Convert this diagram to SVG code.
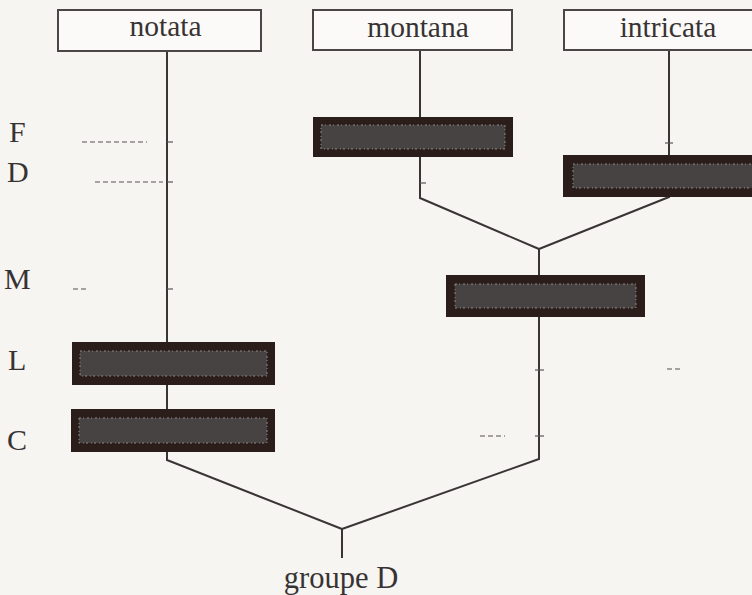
<svg xmlns="http://www.w3.org/2000/svg" width="752" height="595" viewBox="0 0 752 595">
  <style>
    text { font-family: 'Liberation Serif', 'DejaVu Serif', serif; fill: #383333; }
    .box { fill: #fbfaf8; stroke: #4a4645; stroke-width: 2; }
    .conn { fill: none; stroke: #3a3535; stroke-width: 2; }
    .tick { stroke: #5a5656; stroke-width: 1.2; }
    .faint { stroke: #8a8686; stroke-width: 1.3; stroke-dasharray: 5 3; fill: none; }
    .bar-out { fill: #2b1d1a; }
    .bar-in { fill: #474342; stroke: #8c8a88; stroke-width: 1; stroke-dasharray: 2 2 1 3; }
  </style>
  <rect x="0" y="0" width="752" height="595" fill="#f6f5f2"/>

  <g id="connectors">
    <polyline class="conn" points="167,51 167,460 342,529"/>
    <polyline class="conn" points="420,50 420,198 539,249"/>
    <polyline class="conn" points="669,50 669,197 539,249"/>
    <polyline class="conn" points="539,249 539,459 342,529"/>
    <line class="conn" x1="342" y1="529" x2="342" y2="558"/>
  </g>

  <g id="scale-marks">
    <line class="tick" x1="167" y1="142" x2="173" y2="142"/>
    <line class="tick" x1="167" y1="182" x2="173" y2="182"/>
    <line class="tick" x1="167" y1="289" x2="173" y2="289"/>
    <line class="tick" x1="420" y1="183" x2="426" y2="183"/>
    <line class="tick" x1="665" y1="143" x2="673" y2="143"/>
    <line class="tick" x1="535" y1="370" x2="544" y2="370"/>
    <line class="tick" x1="535" y1="436" x2="544" y2="436"/>
    <line class="faint" x1="82" y1="142" x2="147" y2="142"/>
    <line class="faint" x1="95" y1="182" x2="163" y2="182"/>
    <line class="faint" x1="73" y1="289" x2="88" y2="289"/>
    <line class="faint" x1="667" y1="369" x2="683" y2="369"/>
    <line class="faint" x1="480" y1="436" x2="505" y2="436"/>
  </g>

  <g id="node-notata">
    <rect class="box" x="58" y="10" width="203" height="41"/>
    <text x="165.5" y="36" font-family="Liberation Serif, serif" font-size="29.5" text-anchor="middle">notata</text>
  </g>
  <g id="node-montana">
    <rect class="box" x="313" y="10" width="199" height="40"/>
    <text x="418" y="36.5" font-family="Liberation Serif, serif" font-size="29.5" text-anchor="middle">montana</text>
  </g>
  <g id="node-intricata">
    <rect class="box" x="564" y="10" width="210" height="40"/>
    <text x="668" y="36.5" font-family="Liberation Serif, serif" font-size="29.5" text-anchor="middle">intricata</text>
  </g>

  <g id="bar-F">
    <rect class="bar-out" x="313" y="117" width="200" height="40"/>
    <rect class="bar-in" x="321" y="125" width="184" height="24"/>
  </g>
  <g id="bar-D">
    <rect class="bar-out" x="563" y="155" width="200" height="42"/>
    <rect class="bar-in" x="573" y="164" width="180" height="24"/>
  </g>
  <g id="bar-M">
    <rect class="bar-out" x="446" y="275" width="199" height="42"/>
    <rect class="bar-in" x="455" y="284" width="181" height="24"/>
  </g>
  <g id="bar-L">
    <rect class="bar-out" x="72" y="342" width="203" height="43"/>
    <rect class="bar-in" x="80" y="351" width="187" height="25"/>
  </g>
  <g id="bar-C">
    <rect class="bar-out" x="71" y="409" width="204" height="43"/>
    <rect class="bar-in" x="79" y="418" width="188" height="25"/>
  </g>

  <g id="level-labels">
    <text x="9" y="142" font-family="Liberation Serif, serif" font-size="30">F</text>
    <text x="7" y="182" font-family="Liberation Serif, serif" font-size="30">D</text>
    <text x="4" y="289" font-family="Liberation Serif, serif" font-size="30">M</text>
    <text x="8" y="370" font-family="Liberation Serif, serif" font-size="30">L</text>
    <text x="7" y="450" font-family="Liberation Serif, serif" font-size="30">C</text>
  </g>

  <g id="node-root">
    <text x="341" y="588" font-family="Liberation Serif, serif" font-size="30.5" text-anchor="middle">groupe D</text>
  </g>
</svg>
